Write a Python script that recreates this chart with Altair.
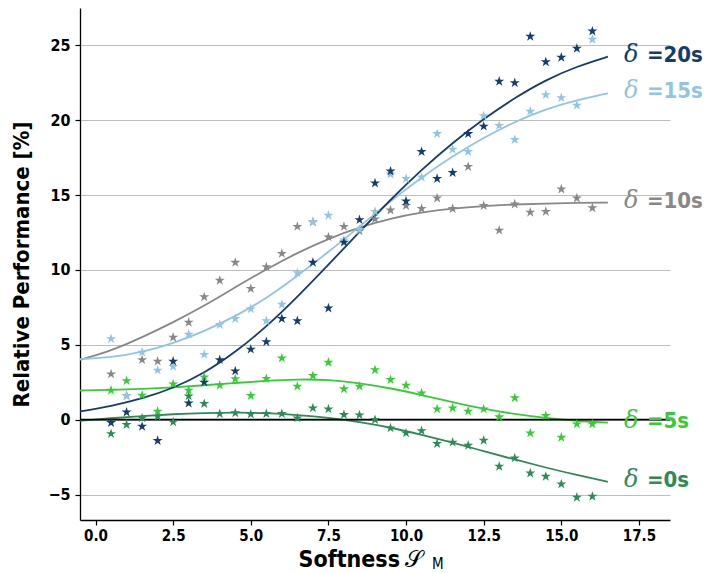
import altair as alt
import pandas as pd

# ---------------- data ----------------
series_names = ["δ =0s", "δ =5s", "δ =10s", "δ =15s", "δ =20s"]
series_tail = ["=0s", "=5s", "=10s", "=15s", "=20s"]
series_colors = ["#2e8b57", "#35cc35", "#888888", "#90c6e3", "#143d6e"]

star_x = [0.5, 1.0, 1.5, 2.0, 2.5, 3.0, 3.5, 4.0, 4.5, 5.0, 5.5, 6.0, 6.5, 7.0, 7.5, 8.0,
          8.5, 9.0, 9.5, 10.0, 10.5, 11.0, 11.5, 12.0, 12.5, 13.0, 13.5, 14.0, 14.5, 15.0, 15.5, 16.0]

stars_0s = [-0.94, -0.33, 0.11, 0.22, -0.16, 1.58, 1.07, 0.40, 0.45, 0.36, 0.40, 0.40, 0.11, 0.78, 0.71, 0.33,
            0.31, 0.00, -0.56, -0.89, -0.74, -1.60, -1.51, -1.72, -1.38, -3.12, -2.56, -3.57, -3.79, -4.30, -5.19, -5.13]
stars_5s = [1.96, 2.60, 1.63, 0.56, 2.38, 1.96, 2.85, 2.30, 2.72, 1.60, 2.74, 4.12, 2.23, 2.94, 3.83, 2.05,
            2.23, 3.32, 2.67, 2.30, 1.78, 0.71, 0.78, 0.56, 0.71, 0.18, 1.45, -0.89, 0.27, -1.18, -0.29, -0.29]
stars_10s = [3.05, 1.60, 4.00, 3.90, 5.50, 6.50, 8.20, 9.30, 10.50, 8.75, 10.20, 11.10, 12.90, 13.20, 12.20, 12.90,
             12.60, 13.40, 14.00, 14.30, 14.10, 14.80, 14.10, 16.90, 14.30, 12.65, 14.40, 13.85, 13.90, 15.40, 14.80, 14.15]
stars_15s = [5.40, 1.60, 4.50, 3.30, 3.55, 5.70, 4.35, 6.35, 6.75, 7.40, 6.60, 7.70, 9.80, 13.20, 13.65, 12.00,
             12.70, 13.90, 16.40, 16.10, 16.20, 19.10, 18.05, 17.90, 20.30, 19.65, 18.70, 20.60, 21.70, 21.50, 21.00, 25.40]
stars_20s = [-0.20, 0.50, -0.45, -1.40, 3.90, 1.10, 2.50, 4.00, 3.25, 4.70, 5.20, 6.75, 6.60, 10.50, 7.45, 11.85,
             13.35, 15.80, 16.60, 14.60, 17.90, 16.10, 16.50, 19.10, 19.60, 22.60, 22.50, 25.60, 23.90, 24.20, 24.80, 25.95]

curve_x = [-0.5, 0.5, 1.5, 2.5, 3.5, 4.5, 5.5, 6.5, 7.5, 8.5, 9.5, 10.5, 11.5, 12.5, 13.5, 14.5, 15.5, 16.5]
curve_0s = [-0.07, 0.10, 0.25, 0.37, 0.45, 0.48, 0.45, 0.32, 0.13, -0.15, -0.52, -1.00, -1.53, -2.10, -2.66, -3.20, -3.70, -4.15]
curve_5s = [1.95, 1.98, 2.05, 2.15, 2.30, 2.45, 2.60, 2.70, 2.68, 2.45, 2.10, 1.65, 1.17, 0.72, 0.37, 0.10, -0.08, -0.20]
curve_10s = [4.00, 4.60, 5.50, 6.50, 7.60, 8.85, 10.05, 11.15, 12.10, 12.85, 13.45, 13.85, 14.12, 14.28, 14.38, 14.44, 14.48, 14.50]
curve_15s = [4.05, 4.15, 4.50, 5.10, 5.90, 6.90, 8.10, 9.60, 11.20, 12.90, 14.60, 16.20, 17.60, 18.85, 19.90, 20.75, 21.35, 21.80]
curve_20s = [0.55, 0.90, 1.40, 2.10, 3.10, 4.50, 6.20, 8.20, 10.35, 12.55, 14.70, 16.70, 18.50, 20.10, 21.50, 22.70, 23.60, 24.25]

x_ticks = [0.0, 2.5, 5.0, 7.5, 10.0, 12.5, 15.0, 17.5]
y_ticks = [-5, 0, 5, 10, 15, 20, 25]

# ---------------- tables ----------------
star_sets = [stars_0s, stars_5s, stars_10s, stars_15s, stars_20s]
curve_sets = [curve_0s, curve_5s, curve_10s, curve_15s, curve_20s]

stars_df = pd.DataFrame([
    {"x": xv, "y": yv, "series": name}
    for name, vals in zip(series_names, star_sets)
    for xv, yv in zip(star_x, vals)
])
curves_df = pd.DataFrame([
    {"x": xv, "y": yv, "series": name}
    for name, vals in zip(series_names, curve_sets)
    for xv, yv in zip(curve_x, vals)
])
labels_df = pd.DataFrame([
    {"x": curve_x[-1], "y": vals[-1], "series": name, "tail": tail}
    for name, tail, vals in zip(series_names, series_tail, curve_sets)
])

TICK_FONT = "DejaVu Sans Condensed, DejaVu Sans"

color_scale = alt.Scale(domain=series_names, range=series_colors)
x_scale = alt.Scale(domain=[-0.5, 18.5], nice=False, zero=False)
y_scale = alt.Scale(domain=[-6.7, 27.5], nice=False, zero=False)

x_enc = alt.X("x:Q", scale=x_scale, axis=alt.Axis(
    values=x_ticks, format=".1f", grid=False, title="",
    domainColor="#000000", domainWidth=1.3, tickColor="#000000", tickWidth=1.2, tickSize=5,
    labelFont=TICK_FONT, labelFontSize=15, labelFontWeight="bold", labelColor="#000000",
    labelPadding=3, labelFlush=False))
y_enc = alt.Y("y:Q", scale=y_scale, axis=alt.Axis(
    values=y_ticks, format="d", grid=True, gridColor="#bdbdbd", gridWidth=1.2,
    domainColor="#000000", domainWidth=1.3, tickColor="#000000", tickWidth=1.2, tickSize=5,
    labelFont=TICK_FONT, labelFontSize=16, labelFontWeight="bold", labelColor="#000000",
    labelPadding=5,
    title="Relative Performance [%]", titleFont=TICK_FONT, titleFontSize=22,
    titleFontWeight="bold", titleColor="#000000", titlePadding=14))
c_enc = alt.Color("series:N", scale=color_scale, legend=None)

lines = alt.Chart(curves_df).mark_line(strokeWidth=1.8, interpolate="basis").encode(
    x=x_enc, y=y_enc, color=c_enc, detail="series:N")

zero_rule = alt.Chart(pd.DataFrame({"y": [0]})).mark_rule(color="#000000", strokeWidth=1.8).encode(
    y=alt.Y("y:Q", scale=y_scale))

STAR = ("M0,-1L0.225,-0.309L0.951,-0.309L0.363,0.118L0.588,0.809L0,0.382"
        "L-0.588,0.809L-0.363,0.118L-0.951,-0.309L-0.225,-0.309Z")
stars = alt.Chart(stars_df).mark_point(shape=STAR, filled=True, size=112, opacity=1).encode(
    x=alt.X("x:Q", scale=x_scale), y=alt.Y("y:Q", scale=y_scale), color=c_enc)

delta_text = alt.Chart(labels_df).mark_text(
    align="left", baseline="middle", dx=16, dy=-2, font="DejaVu Serif",
    fontStyle="italic", fontSize=24).encode(
    x=alt.X("x:Q", scale=x_scale), y=alt.Y("y:Q", scale=y_scale), color=c_enc,
    text=alt.value("δ"))
tail_text = alt.Chart(labels_df).mark_text(
    align="left", baseline="middle", dx=39, dy=-2, font=TICK_FONT,
    fontWeight="bold", fontSize=22).encode(
    x=alt.X("x:Q", scale=x_scale), y=alt.Y("y:Q", scale=y_scale), color=c_enc,
    text="tail:N")

title_main = alt.Chart(pd.DataFrame({"t": ["Softness"]})).mark_text(
    align="right", baseline="alphabetic", font=TICK_FONT, fontWeight="bold",
    fontSize=23, color="#000000").encode(
    x=alt.value(320), y=alt.value(559), text="t:N")
title_sym = alt.Chart(pd.DataFrame({"t": ["𝒮"]})).mark_text(
    align="left", baseline="alphabetic", fontSize=23, color="#000000").encode(
    x=alt.value(325), y=alt.value(559), text="t:N")
title_sub = alt.Chart(pd.DataFrame({"t": ["M"]})).mark_text(
    align="left", baseline="alphabetic", font=TICK_FONT, fontSize=15, color="#000000").encode(
    x=alt.value(352), y=alt.value(561), text="t:N")

chart = alt.layer(
    lines, zero_rule, stars, delta_text, tail_text, title_main, title_sym, title_sub
).properties(
    width=590, height=512,
    autosize=alt.AutoSizeParams(type="none"),
    padding={"left": 80, "top": 8, "right": 39, "bottom": 53},
    background="white",
).configure_view(stroke=None)

chart.save("out.html", embed_options={"renderer": "svg", "actions": False})
